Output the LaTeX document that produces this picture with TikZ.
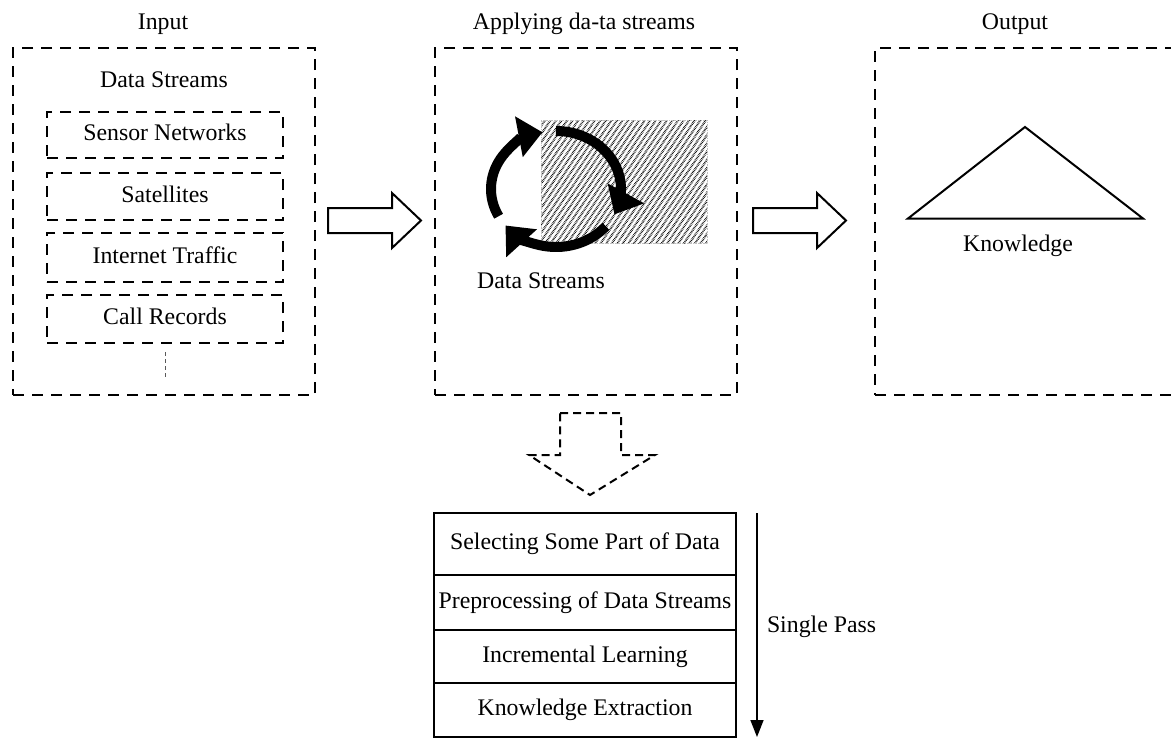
\documentclass[tikz,border=0pt]{standalone}
\usepackage{fontspec}
\setmainfont{Liberation Serif}
\usetikzlibrary{arrows.meta,patterns.meta}
\begin{document}
\begin{tikzpicture}[x=1pt,y=-1pt,
  every node/.style={font=\fontsize{23.8}{28}\selectfont, inner sep=0pt, outer sep=0pt},
  panel/.style={draw, line width=2.4pt, dash pattern=on 11pt off 8pt, minimum width=302pt, minimum height=347pt},
  subbox/.style={draw, line width=2.2pt, dash pattern=on 11pt off 8pt, minimum width=236pt, text height=16pt, text depth=5pt},
  rowbox/.style={draw, line width=1.2pt, minimum width=302pt, text height=16pt, text depth=5pt},
  blk/.style={draw, line width=2pt, fill=white},
  cyc/.style={line width=10pt, -{Triangle[length=24pt,width=40pt]}},
  lbl/.style={anchor=base}
]
\useasboundingbox (0,0) rectangle (1171,739);

% panels
\node[panel] (inbox) at (164,221.5) {};
\node[panel] (midbox) at (586,221.5) {};
\node[panel, minimum width=300pt] (outbox) at (1025,221.5) {};

\node[lbl] (inlbl) at (163,29) {Input};
\node[lbl] (midlbl) at (584,29) {Applying da-ta streams};
\node[lbl] (outlbl) at (1015,29) {Output};

% input content
\node[lbl] (inds) at (164,87) {Data Streams};
\node[subbox, minimum height=46pt] (s1) at (165,135) {Sensor Networks};
\node[subbox, minimum height=47pt] (s2) at (165,196.5) {Satellites};
\node[subbox, minimum height=49pt] (s3) at (165,257.5) {Internet Traffic};
\node[subbox, minimum height=48pt] (s4) at (165,319) {Call Records};
\coordinate (dotend) at (165,377);
\draw[line width=0.9pt, gray!70!black, dash pattern=on 4pt off 3pt] ([yshift=-9pt]s4.south) -- (dotend);

% block arrows
\coordinate (a1) at (328,220.5);
\draw[blk] (a1) ++(0,-12.5) -- ++(64,0) -- ++(0,-15) -- ++(29,27.5) -- ++(-29,27.5) -- ++(0,-15) -- ++(-64,0) -- cycle;
\coordinate (a2) at (753,220.5);
\draw[blk] (a2) ++(0,-12.5) -- ++(64,0) -- ++(0,-15) -- ++(29,27.5) -- ++(-29,27.5) -- ++(0,-15) -- ++(-64,0) -- cycle;

% middle content
\node[minimum width=166pt, minimum height=123pt, draw=gray!50, line width=0.6pt, densely dotted,
      pattern={Lines[angle=56,distance=4.6pt,line width=2.1pt]}] (hatch) at (624,181.5) {};
\coordinate (cc) at (556,189);
\draw[cyc] ([shift={(152:65 and 58)}]cc) arc[start angle=152, end angle=258, x radius=65, y radius=58];
\draw[cyc] ([shift={(270:65 and 58)}]cc) arc[start angle=270, end angle=386, x radius=65, y radius=58];
\draw[cyc] ([shift={(40:65 and 58)}]cc) arc[start angle=40, end angle=141, x radius=65, y radius=58];
\node[lbl] (midds) at (541,288) {Data Streams};

% output content
\coordinate (t1) at (1025,127);
\coordinate (t2) at (1143,218.5);
\coordinate (t3) at (908,218.5);
\draw[line width=2pt, line join=miter] (t1) -- (t2) -- (t3) -- cycle;
\node[lbl] (know) at (1018,251) {Knowledge};

% dashed down arrow
\coordinate (da) at (590,413);
\draw[line width=2pt, dash pattern=on 8pt off 5pt] (da) ++(-30,0) -- ++(61,0) -- ++(0,42) -- ++(34,0) -- (590,495) -- (529,455) -- (560,455) -- cycle;

% list box
\node[rowbox, minimum height=62pt] (r1) at (585,544) {Selecting Some Part of Data};
\node[rowbox, minimum height=55pt] (r2) at (585,602.5) {Preprocessing of Data Streams};
\node[rowbox, minimum height=53pt] (r3) at (585,656.5) {Incremental Learning};
\node[rowbox, minimum height=54pt] (r4) at (585,710) {Knowledge Extraction};
\draw[line width=2pt] (r1.north west) rectangle (r4.south east);

% single pass
\coordinate (sp1) at (757,513);
\coordinate (sp2) at (757,737);
\draw[line width=1.6pt, -{Triangle[length=17pt,width=13pt]}] (sp1) -- (sp2);
\node[anchor=base west] (sp) at (767,632) {Single Pass};
\end{tikzpicture}
\end{document}
